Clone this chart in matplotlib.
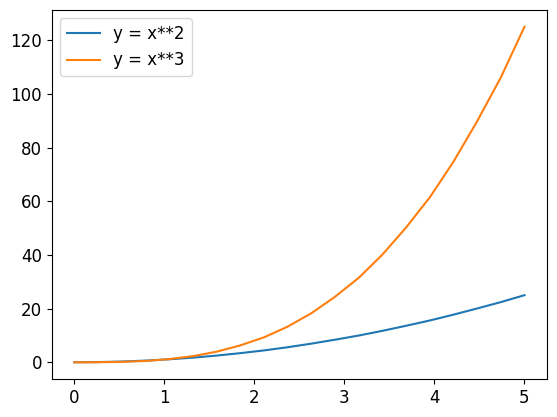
import matplotlib
matplotlib.use("Agg")
import matplotlib.pyplot as plt

# values
x_vals = [0.00, 0.26, 0.53, 0.79, 1.05, 1.32, 1.58, 1.84, 2.11, 2.37,
          2.63, 2.89, 3.16, 3.42, 3.68, 3.95, 4.21, 4.47, 4.74, 5.00]
y_square = [0.00, 0.07, 0.28, 0.62, 1.11, 1.73, 2.49, 3.39, 4.43, 5.61,
            6.93, 8.38, 9.97, 11.70, 13.57, 15.58, 17.73, 20.01, 22.44, 25.00]
y_cube = [0.00, 0.02, 0.15, 0.49, 1.17, 2.28, 3.94, 6.25, 9.33, 13.29,
          18.22, 24.26, 31.49, 40.04, 50.01, 61.51, 74.65, 89.54, 106.28, 125.00]
series_labels = ["y = x**2", "y = x**3"]

plt.rcParams["font.size"] = 12

fig = plt.figure(figsize=(5.57, 4.17), dpi=100)
ax = fig.add_axes([0.093, 0.091, 0.889, 0.885])
ax.plot(x_vals, y_square, label=series_labels[0])
ax.plot(x_vals, y_cube, label=series_labels[1])
ax.legend(loc="upper left")

fig.savefig("out.png", dpi=100)
